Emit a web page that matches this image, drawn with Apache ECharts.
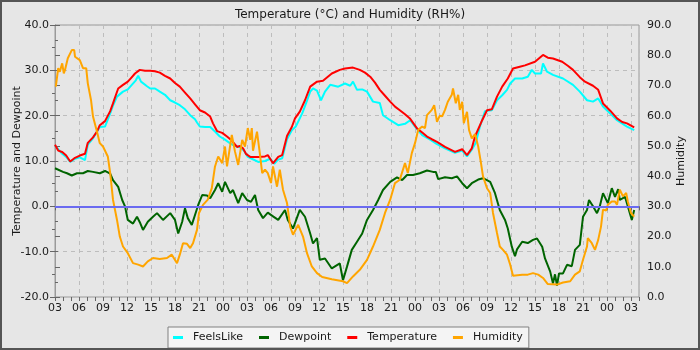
<!DOCTYPE html>
<html>
<head>
<meta charset="utf-8">
<style>
  html, body { margin: 0; padding: 0; background: #e6e6e6; }
  #chart { width: 700px; height: 350px; }
</style>
<script src="https://cdn.jsdelivr.net/npm/echarts@6/dist/echarts.min.js"></script>
</head>
<body>
<div id="chart"></div>
<script>
// Hour-of-day labels along the time axis, one every 3 hours from 03:00 on day 1.
const hourTickLabels = ['03','06','09','12','15','18','21','00',
                        '03','06','09','12','15','18','21','00',
                        '03','06','09','12','15','18','21','00','03'];

// Each reading is [hours since 03:00 on day 1, value].
const temperature = [
  [0,13.6],[0.4,12.3],[0.9,12.0],[1.4,11.2],[1.9,9.9],[2.5,10.7],[3.1,11.2],[3.75,11.6],
  [4.1,14.0],[4.75,15.2],[5.25,16.5],[5.6,17.9],[6.25,18.8],[6.9,21.0],[7.25,22.7],[7.6,24.5],
  [7.9,26.0],[8.5,26.8],[9.1,27.5],[9.5,28.3],[10,29.3],[10.6,30.1],[11.25,29.9],[11.9,29.9],
  [12.5,29.8],[13.1,29.5],[13.75,28.8],[14.4,28.2],[15,27.2],[15.6,26.4],[16.25,25.1],[16.9,23.8],
  [17.5,22.5],[18.1,21.2],[18.75,20.7],[19.4,19.8],[19.75,18.3],[20.25,16.6],[20.9,16.2],[21.5,15.4],
  [22.1,14.5],[22.75,13.1],[23.1,13.3],[23.5,12.8],[23.9,11.5],[24.4,10.9],[25.4,10.9],[26.25,11.0],
  [26.6,11.3],[27.25,9.5],[27.9,10.9],[28.4,11.3],[29,15.5],[29.6,17.5],[30,19.4],[30.6,20.9],
  [31.25,23.4],[31.9,26.4],[32.75,27.5],[33.5,27.7],[34.6,29.3],[35.6,30.1],[36.25,30.4],[37.25,30.6],
  [38.1,30.1],[38.75,29.5],[39.4,28.6],[40,27.3],[40.6,25.7],[41.25,24.4],[41.9,23.1],[42.5,22.0],
  [43.1,21.2],[43.75,20.3],[44.4,19.3],[45.25,17.2],[45.9,16.3],[46.5,15.4],[47.1,14.8],[47.75,14.2],
  [48.75,13.1],[50,12.0],[50.9,12.6],[51.5,11.3],[52.1,12.8],[52.5,15.4],[53.4,19.0],[54,21.2],
  [54.6,21.4],[55.25,24.2],[55.9,26.4],[56.6,28.2],[57.25,30.4],[58.1,30.8],[58.75,31.1],[60,31.9],
  [61,33.4],[61.6,32.8],[62.25,32.6],[63.4,31.9],[64.1,31.0],[64.75,30.1],[65.6,28.5],[66.25,27.5],
  [67.25,26.6],[67.9,25.7],[68.5,22.7],[69.4,21.1],[70.25,19.4],[70.9,18.6],[71.5,18.3],[72.4,17.4]
];

const feelsLike = [
  [0,13.4],[0.9,11.6],[1.4,10.9],[1.9,9.8],[2.5,10.5],[3.1,10.8],[3.75,10.2],[4.1,13.6],
  [4.75,15.0],[5.6,17.5],[6.25,17.6],[6.9,20.5],[7.25,22.2],[7.75,24.2],[8.5,25.3],[9.1,25.8],
  [9.6,26.8],[10.1,27.8],[10.4,28.8],[10.75,27.5],[11,27.1],[11.5,26.5],[11.9,26.0],[12.5,26.0],
  [13.1,25.3],[13.75,24.6],[14.4,23.4],[15,22.9],[15.6,22.3],[16.25,21.4],[16.9,20.1],[17.5,19.2],
  [17.75,18.5],[18.1,17.6],[18.75,17.5],[19.4,17.5],[20,16.5],[20.6,15.4],[21.25,14.7],[21.9,13.9],
  [22.5,13.3],[23.1,13.1],[23.6,12.3],[24.1,10.9],[24.6,10.5],[25.4,9.8],[26.25,10.0],[26.9,10.5],
  [27.4,9.4],[27.9,10.3],[28.4,10.6],[29,14.8],[29.6,16.8],[30.1,17.6],[30.9,20.5],[31.4,22.8],
  [31.9,25.3],[32.25,26.0],[32.75,25.5],[33.25,23.4],[33.75,25.3],[34.4,26.8],[35.4,26.4],[36.25,27.1],
  [36.9,26.6],[37.25,27.5],[37.75,25.7],[38.4,25.8],[39,25.3],[39.75,23.1],[40.6,22.8],[41,20.1],
  [41.9,19.0],[42.9,17.9],[43.75,18.2],[44.4,19.0],[45,17.6],[45.9,15.7],[46.9,14.7],[47.75,13.7],
  [48.75,12.8],[50,11.8],[50.9,12.3],[51.5,11.0],[52.1,12.5],[52.6,14.0],[53.1,17.5],[53.75,21.0],
  [54.6,21.2],[55.25,23.4],[55.9,24.5],[56.5,25.7],[56.9,27.1],[57.5,28.2],[58.4,28.2],[59.1,28.6],
  [59.6,30.1],[60,29.3],[60.25,29.7],[60.75,29.3],[61,31.5],[61.5,29.7],[62.25,29.0],[63.5,28.2],
  [64.75,26.8],[65.6,25.3],[66.5,23.4],[67.25,23.1],[67.9,23.8],[68.5,22.0],[69.4,20.5],[70.25,19.0],
  [71.5,17.6],[72.4,16.8]
];

const dewpoint = [
  [0,8.4],[0.25,8.2],[1,7.6],[1.5,7.3],[2.1,6.8],[2.75,7.3],[3.5,7.3],[4.1,7.8],
  [4.75,7.6],[5.6,7.3],[6.25,7.8],[6.9,7.2],[7.25,5.8],[7.9,4.3],[8.4,1.4],[8.75,0.0],
  [9.1,-3.0],[9.75,-3.8],[10.25,-2.3],[10.6,-3.5],[11,-5.2],[11.6,-3.4],[12.25,-2.3],[12.75,-1.5],
  [13.5,-3.0],[14.4,-1.5],[15,-3.0],[15.4,-6.0],[15.9,-3.4],[16.25,-0.4],[16.6,-2.6],[17.1,-4.1],
  [17.5,-1.9],[17.9,0.3],[18.4,2.5],[19,2.4],[19.4,1.8],[20,3.6],[20.4,5.1],[20.9,3.2],
  [21.25,5.4],[21.9,2.9],[22.25,3.6],[22.9,0.7],[23.4,2.9],[24,1.4],[24.5,1.0],[25,2.5],
  [25.4,-0.8],[26,-2.6],[26.6,-1.4],[27.25,-2.2],[27.9,-3.0],[28.75,-0.8],[29.1,-3.0],[29.75,-4.9],
  [30.6,-0.8],[31.25,-2.3],[31.9,-6.0],[32.25,-8.2],[32.75,-7.0],[33.1,-11.8],[33.75,-11.5],[34.6,-13.7],
  [35.6,-12.6],[36,-16.3],[36.5,-13.3],[37.1,-9.6],[37.75,-7.8],[38.4,-6.0],[39,-3.0],[39.75,-0.8],
  [40.4,1.4],[41,3.6],[41.9,5.4],[42.75,6.4],[43.4,5.8],[44,6.9],[44.75,6.9],[45.6,7.3],
  [46.5,7.9],[47.25,7.6],[47.6,7.6],[47.9,6.0],[48.75,6.4],[49.6,6.2],[50.25,6.6],[50.9,5.1],
  [51.5,4.0],[52.1,5.1],[52.9,5.9],[53.5,6.2],[54.4,5.4],[55,2.9],[55.6,-0.8],[56.25,-3.0],
  [56.6,-4.9],[57.1,-8.9],[57.5,-11.0],[57.75,-9.5],[58.4,-7.8],[59.1,-8.1],[59.75,-7.4],[60.25,-7.1],
  [60.9,-8.9],[61.25,-11.5],[61.9,-14.4],[62.25,-17.0],[62.5,-15.0],[62.75,-17.5],[63,-14.8],[63.5,-14.8],
  [64,-12.9],[64.6,-13.2],[65,-9.6],[65.6,-8.5],[66,-2.3],[66.5,-0.8],[66.75,1.4],[67.25,0.0],
  [67.75,-1.5],[68.1,0.0],[68.5,2.9],[69.1,0.7],[69.6,4.0],[70,2.1],[70.4,3.8],[70.6,1.4],
  [71.25,2.1],[71.6,0.0],[72.1,-3.0],[72.4,-0.8]
];

const humidity = [
  [0.1,69.6],[0.4,75.7],[0.6,74.5],[0.9,77.3],[1.1,74.0],[1.25,75.1],[1.6,79.0],[2.1,81.7],
  [2.4,81.7],[2.5,79.5],[2.75,80.0],[3.1,78.4],[3.5,75.7],[3.9,75.7],[4.1,70.7],[4.5,65.2],
  [4.75,59.7],[5.25,54.7],[5.6,50.9],[6,49.8],[6.6,46.5],[6.9,41.0],[7.25,32.2],[7.75,25.5],
  [8.1,20.0],[8.5,16.7],[9.1,14.5],[9.75,11.2],[10.4,10.7],[11,10.1],[11.6,11.8],[12.25,12.9],
  [13.1,12.6],[14,12.9],[14.6,14.0],[15.25,11.2],[15.6,14.0],[16,17.8],[16.5,17.6],[16.9,16.2],
  [17.25,17.8],[17.75,22.2],[18,27.8],[18.5,30.5],[19.1,32.2],[19.6,36.0],[20,43.2],[20.4,46.5],
  [20.9,44.3],[21.25,49.8],[21.5,43.2],[22.1,53.6],[22.5,48.1],[22.9,43.7],[23.4,52.0],[23.75,49.8],
  [24.1,55.9],[24.4,52.0],[24.6,55.9],[24.75,48.4],[25.25,54.7],[25.6,47.6],[25.9,41.0],[26.25,42.1],
  [26.6,41.0],[27,37.7],[27.25,43.2],[27.75,36.5],[28.1,42.1],[28.5,35.5],[29,31.1],[29.4,23.3],
  [29.75,20.6],[30.4,23.9],[31,20.0],[31.5,14.5],[32.1,10.1],[32.75,7.9],[33.4,6.6],[34.6,5.9],
  [36,5.2],[36.5,4.6],[37.25,6.8],[38.1,9.0],[39,12.3],[39.75,16.7],[40.6,22.2],[41.25,27.8],
  [41.9,32.2],[42.5,37.7],[43.1,38.8],[43.75,44.3],[44.1,41.0],[44.6,47.6],[45,50.9],[45.4,55.3],
  [45.9,56.4],[46.25,55.9],[46.5,60.2],[47.1,61.9],[47.4,63.5],[47.75,58.0],[48.1,60.0],[48.4,59.8],
  [48.75,61.9],[49.1,64.6],[49.6,66.9],[49.75,69.0],[50.1,64.1],[50.4,66.9],[50.6,61.9],[50.9,64.6],
  [51.1,57.5],[51.5,61.3],[51.75,55.3],[52.1,52.5],[52.5,53.9],[52.9,49.8],[53.25,44.3],[53.5,39.9],
  [54,36.0],[54.4,34.4],[54.75,27.8],[55.25,21.2],[55.6,16.7],[56,15.6],[56.5,14.0],[56.9,10.7],
  [57.25,7.0],[58.4,7.4],[59.1,7.4],[59.75,7.9],[60.4,7.4],[61,6.3],[61.6,4.3],[62.75,4.1],
  [63.5,4.8],[64.4,5.2],[65,7.4],[65.6,8.5],[66,12.3],[66.5,16.7],[66.6,19.5],[67.1,17.8],
  [67.5,15.6],[67.9,18.9],[68.25,23.3],[68.5,28.9],[68.9,28.6],[69.1,30.5],[69.6,31.6],[70,31.6],
  [70.25,30.5],[70.6,35.5],[71,33.3],[71.4,34.4],[71.6,31.6],[72,27.8],[72.4,26.6]
];

const FONT = 'DejaVu Sans';
const TEXT = '#1a1a1a';
const gridLine = { show: true, lineStyle: { color: '#bdbdbd', type: [4, 4], width: 1 } };
const axisLine = { show: true, lineStyle: { color: '#9a9a9a', width: 1 } };

const chart = echarts.init(document.getElementById('chart'), null, { renderer: 'canvas' });

chart.setOption({
  backgroundColor: '#e6e6e6',
  animation: false,
  textStyle: { fontFamily: FONT },
  title: {
    text: 'Temperature (°C) and Humidity (RH%)',
    left: 'center',
    top: 4,
    textStyle: { fontFamily: FONT, fontSize: 12, fontWeight: 'normal', color: TEXT }
  },
  graphic: [{
    type: 'rect',
    shape: { x: 1, y: 1, width: 698, height: 348 },
    style: { fill: 'none', stroke: '#555555', lineWidth: 2 },
    silent: true,
    z: 100
  }],
  legend: {
    left: 168,
    bottom: 2,
    orient: 'horizontal',
    backgroundColor: '#f4f4f4',
    borderColor: '#808080',
    borderWidth: 1,
    borderRadius: 0,
    padding: [5, 6, 5, 5],
    itemGap: 16,
    itemWidth: 10,
    itemHeight: 3,
    icon: 'rect',
    textStyle: { fontFamily: FONT, fontSize: 11, color: TEXT, padding: [0, 0, 0, 5] },
    data: ['FeelsLike', 'Dewpoint', 'Temperature', 'Humidity']
  },
  grid: {
    left: 55, right: 61, top: 25, bottom: 53,
    containLabel: false,
    outerBoundsMode: 'none',
    show: true, borderColor: '#9a9a9a', borderWidth: 1, backgroundColor: 'transparent'
  },
  xAxis: [{
    type: 'value',
    min: 0, max: 73, interval: 3,
    axisLine: axisLine,
    axisTick: { show: true, length: 4, lineStyle: { color: '#666' } },
    splitLine: gridLine,
    axisLabel: {
      fontFamily: FONT, fontSize: 11, color: TEXT, margin: 6,
      formatter: v => (v % 3 === 0 && hourTickLabels[v / 3] !== undefined) ? hourTickLabels[v / 3] : ''
    }
  }, {
    // hourly tick marks along the bottom edge
    type: 'value',
    position: 'bottom',
    min: 0, max: 73, interval: 1,
    axisLine: { show: false },
    axisTick: { show: true, length: 4, lineStyle: { color: '#666' } },
    axisLabel: { show: false },
    splitLine: { show: false }
  }],
  yAxis: [{
    type: 'value',
    min: -20, max: 40, interval: 10,
    name: 'Temperature and Dewpoint',
    nameLocation: 'middle',
    nameGap: 32,
    nameMoveOverlap: false,
    nameTextStyle: { fontFamily: FONT, fontSize: 11, color: TEXT },
    axisLine: axisLine,
    axisTick: { show: true, length: 5, lineStyle: { color: '#666' } },
    minorTick: { show: true, splitNumber: 2, length: 3, lineStyle: { color: '#666' } },
    splitLine: gridLine,
    axisLabel: { fontFamily: FONT, fontSize: 11, color: TEXT, margin: 6, formatter: v => v.toFixed(1) }
  }, {
    type: 'value',
    min: 0, max: 90, interval: 10,
    position: 'right',
    name: 'Humidity',
    nameLocation: 'middle',
    nameGap: 37,
    nameMoveOverlap: false,
    nameRotate: 90,
    nameTextStyle: { fontFamily: FONT, fontSize: 11, color: TEXT },
    axisLine: axisLine,
    axisTick: { show: true, length: 5, lineStyle: { color: '#666' } },
    minorTick: { show: true, splitNumber: 2, length: 3, lineStyle: { color: '#666' } },
    splitLine: { show: false },
    axisLabel: { fontFamily: FONT, fontSize: 11, color: TEXT, margin: 8, formatter: v => v.toFixed(1) }
  }],
  series: [{
    name: 'FeelsLike',
    type: 'line',
    data: feelsLike,
    yAxisIndex: 0,
    showSymbol: false,
    lineStyle: { color: '#00ffff', width: 2 },
    itemStyle: { color: '#00ffff' },
    markLine: {
      silent: true,
      symbol: 'none',
      label: { show: false },
      lineStyle: { color: '#6a6af0', width: 2, type: 'solid' },
      data: [{ yAxis: 0 }]
    }
  }, {
    name: 'Dewpoint',
    type: 'line',
    data: dewpoint,
    yAxisIndex: 0,
    showSymbol: false,
    lineStyle: { color: '#006400', width: 2 },
    itemStyle: { color: '#006400' }
  }, {
    name: 'Temperature',
    type: 'line',
    data: temperature,
    yAxisIndex: 0,
    showSymbol: false,
    lineStyle: { color: '#ff0000', width: 2 },
    itemStyle: { color: '#ff0000' }
  }, {
    name: 'Humidity',
    type: 'line',
    data: humidity,
    yAxisIndex: 1,
    showSymbol: false,
    lineStyle: { color: '#ffa500', width: 2 },
    itemStyle: { color: '#ffa500' }
  }]
});
</script>
</body>
</html>
